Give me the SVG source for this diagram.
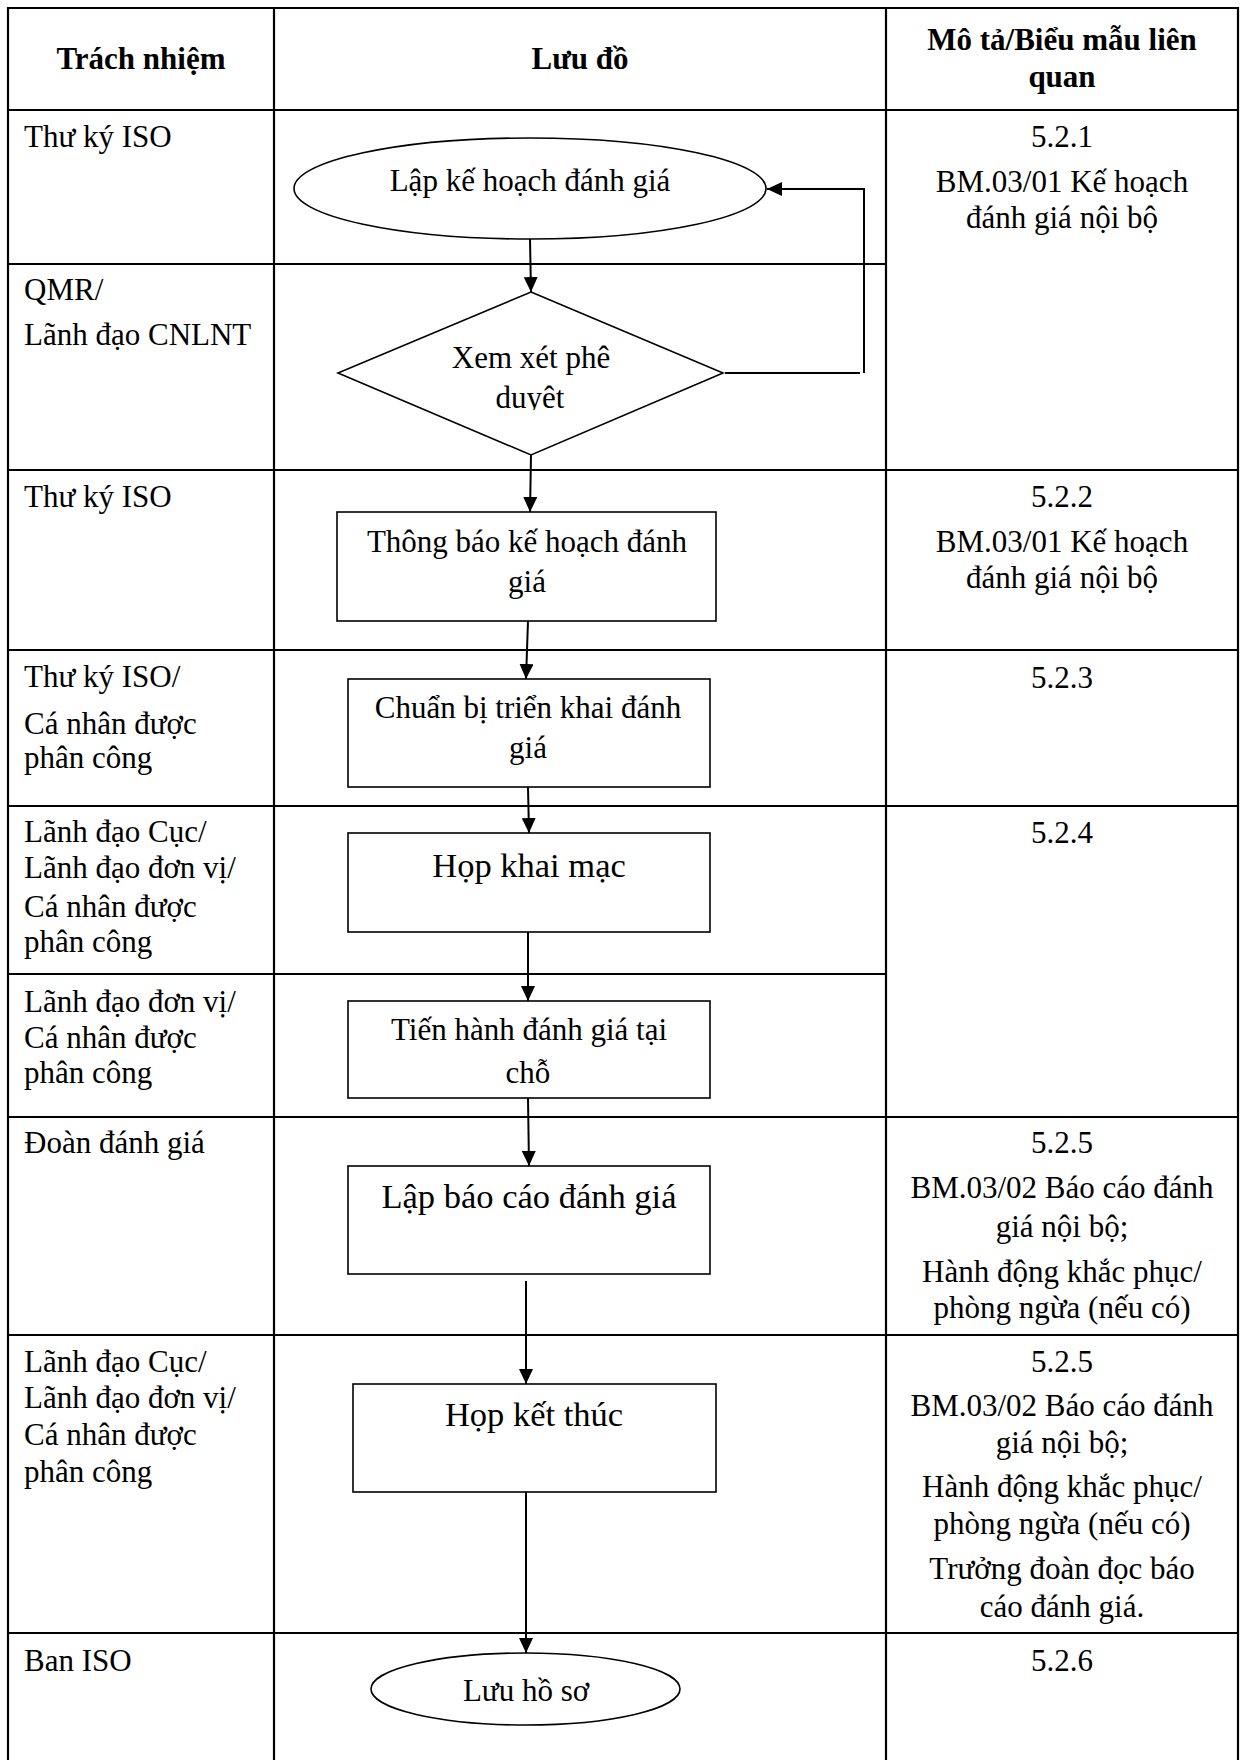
<svg xmlns="http://www.w3.org/2000/svg" width="1240" height="1760" viewBox="0 0 1240 1760">
<style>
  .grid { stroke: #000; stroke-width: 2.2; fill: none; }
  .shape { stroke: #000; stroke-width: 1.6; fill: #fff; }
  .conn { stroke: #000; stroke-width: 2; fill: none; }
  text { font-family: "Liberation Serif", "Times New Roman", serif; font-size: 31px; fill: #000; }
  .h { font-weight: bold; text-anchor: middle; }
  .c { text-anchor: middle; }
  .big { font-size: 34.5px; }
</style>
<defs>
  <marker id="arr" viewBox="0 0 15 14" refX="15" refY="7" markerWidth="15" markerHeight="14" markerUnits="userSpaceOnUse" orient="auto">
    <path d="M0,0 L15,7 L0,14 Z" fill="#000"/>
  </marker>
  <clipPath id="clipDuyet"><rect x="400" y="370" width="260" height="40"/></clipPath>
</defs>
<rect width="1240" height="1760" fill="#fff"/>

<g id="table">
  <line class="grid" x1="8" y1="8" x2="1238" y2="8"/>
  <line class="grid" x1="8" y1="7" x2="8" y2="1760"/>
  <line class="grid" x1="274" y1="7" x2="274" y2="1760"/>
  <line class="grid" x1="886" y1="7" x2="886" y2="1760"/>
  <line class="grid" x1="1238" y1="7" x2="1238" y2="1760"/>
  <line class="grid" x1="8" y1="110" x2="1238" y2="110"/>
  <line class="grid" x1="8" y1="264" x2="886" y2="264"/>
  <line class="grid" x1="8" y1="470" x2="1238" y2="470"/>
  <line class="grid" x1="8" y1="650" x2="1238" y2="650"/>
  <line class="grid" x1="8" y1="806" x2="1238" y2="806"/>
  <line class="grid" x1="8" y1="974" x2="886" y2="974"/>
  <line class="grid" x1="8" y1="1117" x2="1238" y2="1117"/>
  <line class="grid" x1="8" y1="1335" x2="1238" y2="1335"/>
  <line class="grid" x1="8" y1="1633" x2="1238" y2="1633"/>
</g>

<g id="headers">
  <text class="h" x="141" y="69">Trách nhiệm</text>
  <text class="h" x="580" y="69">Lưu đồ</text>
  <text class="h" x="1062" y="50">Mô tả/Biểu mẫu liên</text>
  <text class="h" x="1062" y="87">quan</text>
</g>

<g id="responsibility">
  <text x="24" y="147">Thư ký ISO</text>
  <text x="24" y="300">QMR/</text>
  <text x="24" y="345">Lãnh đạo CNLNT</text>
  <text x="24" y="507">Thư ký ISO</text>
  <text x="24" y="687">Thư ký ISO/</text>
  <text x="24" y="734">Cá nhân được</text>
  <text x="24" y="768">phân công</text>
  <text x="24" y="842">Lãnh đạo Cục/</text>
  <text x="24" y="878">Lãnh đạo đơn vị/</text>
  <text x="24" y="917">Cá nhân được</text>
  <text x="24" y="952">phân công</text>
  <text x="24" y="1012">Lãnh đạo đơn vị/</text>
  <text x="24" y="1048">Cá nhân được</text>
  <text x="24" y="1083">phân công</text>
  <text x="24" y="1153">Đoàn đánh giá</text>
  <text x="24" y="1372">Lãnh đạo Cục/</text>
  <text x="24" y="1408">Lãnh đạo đơn vị/</text>
  <text x="24" y="1445">Cá nhân được</text>
  <text x="24" y="1482">phân công</text>
  <text x="24" y="1671">Ban ISO</text>
</g>

<g id="descriptions">
  <text class="c" x="1062" y="147">5.2.1</text>
  <text class="c" x="1062" y="192">BM.03/01 Kế hoạch</text>
  <text class="c" x="1062" y="228">đánh giá nội bộ</text>
  <text class="c" x="1062" y="507">5.2.2</text>
  <text class="c" x="1062" y="552">BM.03/01 Kế hoạch</text>
  <text class="c" x="1062" y="588">đánh giá nội bộ</text>
  <text class="c" x="1062" y="688">5.2.3</text>
  <text class="c" x="1062" y="843">5.2.4</text>
  <text class="c" x="1062" y="1153">5.2.5</text>
  <text class="c" x="1062" y="1198">BM.03/02 Báo cáo đánh</text>
  <text class="c" x="1062" y="1237">giá nội bộ;</text>
  <text class="c" x="1062" y="1282">Hành động khắc phục/</text>
  <text class="c" x="1062" y="1318">phòng ngừa (nếu có)</text>
  <text class="c" x="1062" y="1372">5.2.5</text>
  <text class="c" x="1062" y="1416">BM.03/02 Báo cáo đánh</text>
  <text class="c" x="1062" y="1453">giá nội bộ;</text>
  <text class="c" x="1062" y="1497">Hành động khắc phục/</text>
  <text class="c" x="1062" y="1534">phòng ngừa (nếu có)</text>
  <text class="c" x="1062" y="1579">Trưởng đoàn đọc báo</text>
  <text class="c" x="1062" y="1617">cáo đánh giá.</text>
  <text class="c" x="1062" y="1671">5.2.6</text>
</g>

<g id="connectors">
  <line class="conn" x1="530" y1="239" x2="531" y2="292" marker-end="url(#arr)"/>
  <line class="conn" x1="725" y1="373" x2="860" y2="373"/>
  <polyline class="conn" points="864,373 864,189 767,189" marker-end="url(#arr)"/>
  <line class="conn" x1="531" y1="455" x2="530" y2="512" marker-end="url(#arr)"/>
  <line class="conn" x1="528" y1="621" x2="526" y2="679" marker-end="url(#arr)"/>
  <line class="conn" x1="528" y1="787" x2="529" y2="833" marker-end="url(#arr)"/>
  <line class="conn" x1="528" y1="932" x2="528" y2="1001" marker-end="url(#arr)"/>
  <line class="conn" x1="528" y1="1098" x2="529" y2="1166" marker-end="url(#arr)"/>
  <line class="conn" x1="526" y1="1281" x2="526" y2="1384" marker-end="url(#arr)"/>
  <line class="conn" x1="526" y1="1492" x2="526" y2="1653" marker-end="url(#arr)"/>
</g>

<g id="node-lap-ke-hoach">
  <ellipse class="shape" cx="530" cy="188.5" rx="236" ry="50.5"/>
  <text class="c" x="530" y="191">Lập kế hoạch đánh giá</text>
</g>

<g id="node-xem-xet">
  <polygon class="shape" points="531,292 723,373 531,455 338,373"/>
  <text class="c" x="531" y="368">Xem xét phê</text>
  <text class="c" x="530" y="408" clip-path="url(#clipDuyet)">duyêt</text>
</g>

<g id="node-thong-bao">
  <rect class="shape" x="337" y="512" width="379" height="109"/>
  <text class="c" x="527" y="552">Thông báo kế hoạch đánh</text>
  <text class="c" x="527" y="592">giá</text>
</g>

<g id="node-chuan-bi">
  <rect class="shape" x="348" y="679" width="362" height="108"/>
  <text class="c" x="528" y="718">Chuẩn bị triển khai đánh</text>
  <text class="c" x="528" y="758">giá</text>
</g>

<g id="node-hop-khai-mac">
  <rect class="shape" x="348" y="833" width="362" height="99"/>
  <text class="c big" x="529" y="877">Họp khai mạc</text>
</g>

<g id="node-tien-hanh">
  <rect class="shape" x="348" y="1001" width="362" height="97"/>
  <text class="c" x="529" y="1040">Tiến hành đánh giá tại</text>
  <text class="c" x="528" y="1083">chỗ</text>
</g>

<g id="node-lap-bao-cao">
  <rect class="shape" x="348" y="1166" width="362" height="108"/>
  <text class="c big" x="529" y="1208">Lập báo cáo đánh giá</text>
</g>

<g id="node-hop-ket-thuc">
  <rect class="shape" x="353" y="1384" width="363" height="108"/>
  <text class="c big" x="534" y="1426">Họp kết thúc</text>
</g>

<g id="node-luu-ho-so">
  <ellipse class="shape" cx="525.5" cy="1689" rx="154.5" ry="36"/>
  <text class="c" x="526" y="1701">Lưu hồ sơ</text>
</g>
</svg>
